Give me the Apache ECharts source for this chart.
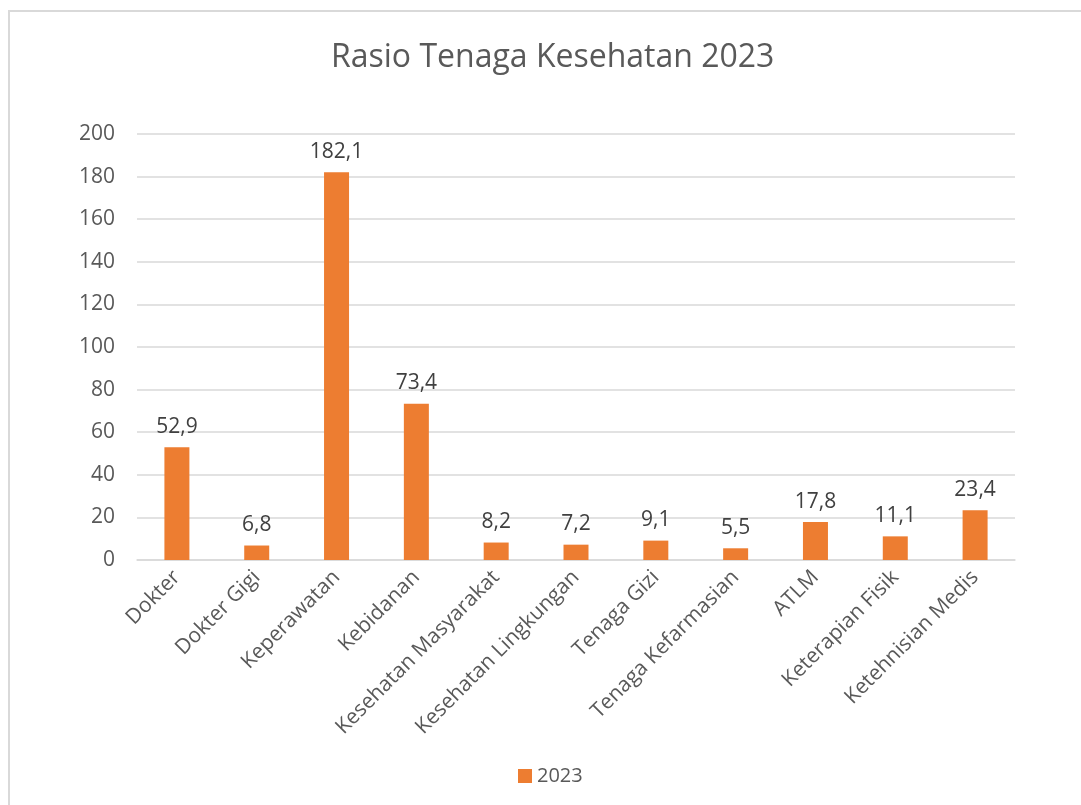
<!DOCTYPE html>
<html>
<head>
<meta charset="utf-8">
<script src="https://cdn.jsdelivr.net/npm/echarts@6/dist/echarts.min.js"></script>
<style>
  html, body { margin: 0; padding: 0; background: #fff; }
  #frame { position: absolute; left: 8px; top: 10px; width: 1073px; height: 795px;
           border-left: 2px solid #d9d9d9; border-top: 2px solid #d9d9d9; box-sizing: border-box; }
  #main { position: absolute; left: 0; top: 0; width: 1081px; height: 805px; }
</style>
</head>
<body>
<div id="frame"></div>
<div id="main"></div>
<script>
var categories = ['Dokter', 'Dokter Gigi', 'Keperawatan', 'Kebidanan', 'Kesehatan Masyarakat',
    'Kesehatan Lingkungan', 'Tenaga Gizi', 'Tenaga Kefarmasian', 'ATLM', 'Keterapian Fisik', 'Ketehnisian Medis'];
var values2023 = [52.9, 6.8, 182.1, 73.4, 8.2, 7.2, 9.1, 5.5, 17.8, 11.1, 23.4];
var yTicks = [0, 20, 40, 60, 80, 100, 120, 140, 160, 180, 200];

var font = '"Open Sans", "Noto Sans", sans-serif';
var myChart = echarts.init(document.getElementById('main'));
var option = {
    backgroundColor: 'transparent',
    textStyle: { fontFamily: font },
    title: {
        text: 'Rasio Tenaga Kesehatan 2023',
        left: 326,
        top: 37,
        textStyle: { fontFamily: font, fontSize: 32, fontWeight: 'normal', color: '#595959' }
    },
    legend: {
        data: ['2023'],
        bottom: 14,
        left: 513,
        icon: 'rect',
        itemWidth: 14,
        itemHeight: 14,
        itemGap: 6,
        textStyle: { fontFamily: font, fontSize: 20, color: '#595959' }
    },
    grid: {
        left: 137,
        right: 66,
        top: 134,
        bottom: 245,
        outerBoundsMode: 'none'
    },
    xAxis: {
        type: 'category',
        data: categories,
        axisTick: { show: false },
        axisLine: { lineStyle: { color: '#d9d9d9', width: 1.5 } },
        axisLabel: {
            rotate: 45,
            interval: 0,
            margin: 14,
            fontFamily: font,
            fontSize: 21,
            color: '#595959'
        }
    },
    yAxis: {
        type: 'value',
        min: yTicks[0],
        max: yTicks[yTicks.length - 1],
        interval: 20,
        axisLine: { show: false },
        axisTick: { show: false },
        splitLine: { lineStyle: { color: '#d9d9d9', width: 1.5 } },
        axisLabel: { margin: 22, fontFamily: font, fontSize: 21, color: '#595959' }
    },
    series: [{
        name: '2023',
        type: 'bar',
        data: values2023,
        barWidth: 25,
        itemStyle: { color: '#ED7D31' },
        label: {
            show: true,
            position: 'top',
            distance: 10,
            fontFamily: font,
            fontSize: 21,
            color: '#404040',
            formatter: function (p) { return p.value.toFixed(1).replace('.', ','); }
        }
    }]
};
myChart.setOption(option);
</script>
</body>
</html>
